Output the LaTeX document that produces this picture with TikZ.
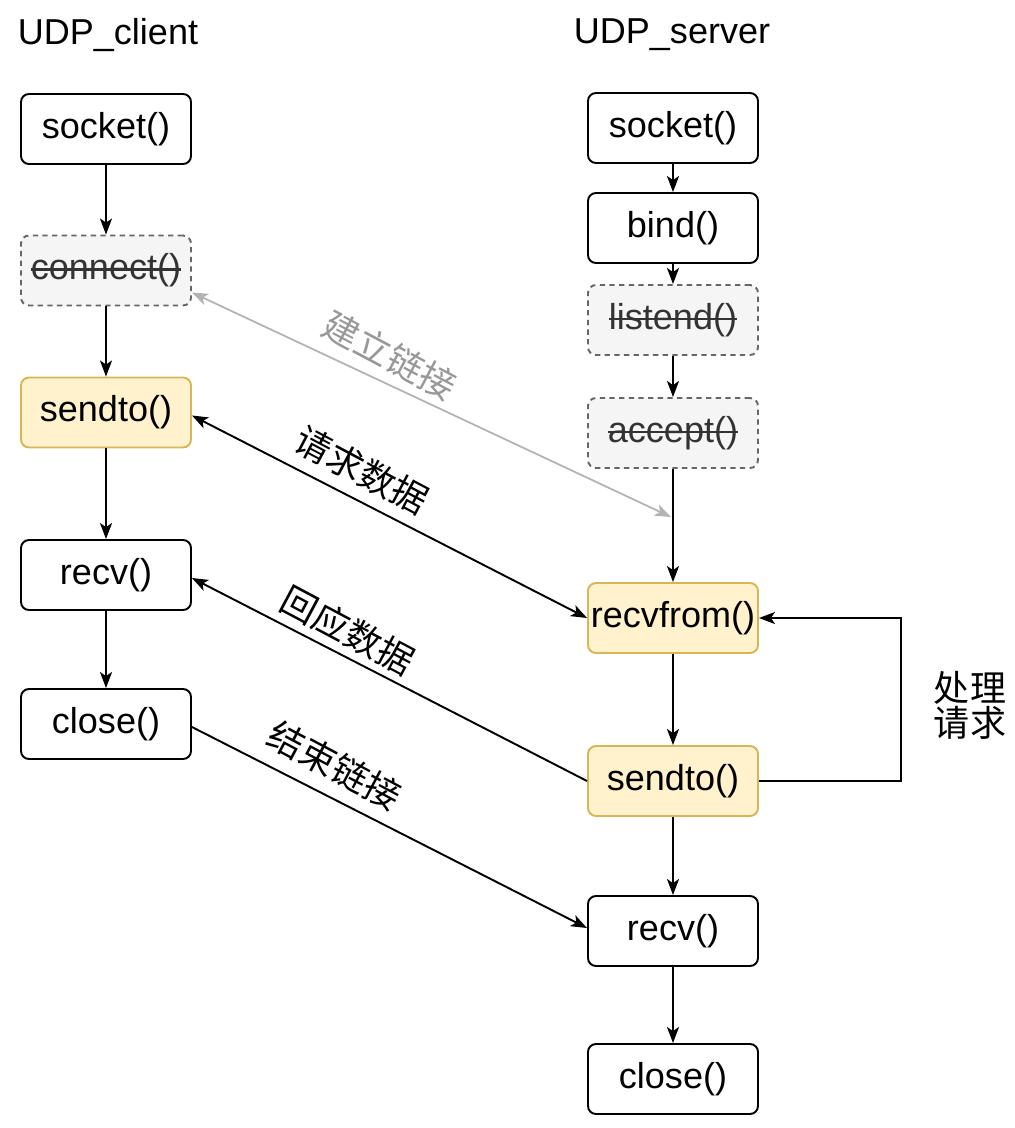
\documentclass[tikz,border=0pt]{standalone}
\usepackage{fontspec}
\setmainfont{Liberation Sans}
\newfontfamily\cjk{Noto Sans CJK SC}
\newsavebox\strkbox
\newcommand\strk[1]{\sbox\strkbox{#1}\rlap{\usebox\strkbox}\rule[0.25em]{\wd\strkbox}{1.6pt}}
\usetikzlibrary{arrows.meta}
\definecolor{yfill}{HTML}{FFF2CC}
\definecolor{ydraw}{HTML}{D6B656}
\definecolor{gfill}{HTML}{F5F5F5}
\definecolor{gdraw}{HTML}{666666}
\definecolor{gtext}{HTML}{333333}
\definecolor{garrow}{HTML}{B3B3B3}
\begin{document}
\begin{tikzpicture}[
  font=\fontsize{20.5}{24}\selectfont,
  box/.style={draw=black, line width=1.1pt, rounded corners=0.16cm, minimum width=3.4cm, minimum height=1.4cm, fill=white, inner sep=0pt},
  hl/.style={box, draw=ydraw, fill=yfill},
  off/.style={box, draw=gdraw, fill=gfill, dash pattern=on 3pt off 2.5pt, text=gtext},
  tip/.style={-{Stealth[length=0.32cm, width=0.24cm, inset=0.08cm]}},
  arr/.style={line width=1.1pt, tip},
  darr/.style={line width=1.1pt, {Stealth[length=0.32cm, width=0.24cm, inset=0.08cm]}-{Stealth[length=0.32cm, width=0.24cm, inset=0.08cm]}},
  lbl/.style={font=\cjk\fontsize{20.5}{24}\selectfont, rotate=-28}
]
\useasboundingbox (0,0) rectangle (20.3,-22.56);

% titles
\node (ctitle) at (2.16,-0.70) {UDP\_client};
\node (stitle) at (13.44,-0.70) {UDP\_server};

% client column
\node[box] (csocket)  at (2.12,-2.58)  {socket()};
\node[off] (cconnect) at (2.12,-5.41)  {\strk{connect()}};
\node[hl]  (csendto)  at (2.12,-8.25)  {sendto()};
\node[box] (crecv)    at (2.12,-11.50) {recv()};
\node[box] (cclose)   at (2.12,-14.48) {close()};

% server column
\node[box] (ssocket)   at (13.46,-2.56)  {socket()};
\node[box] (sbind)     at (13.46,-4.56)  {bind()};
\node[off] (slisten)   at (13.46,-6.40)  {\strk{listend()}};
\node[off] (saccept)   at (13.46,-8.66)  {\strk{accept()}};
\node[hl]  (srecvfrom) at (13.46,-12.36) {recvfrom()};
\node[hl]  (ssendto)   at (13.46,-15.62) {sendto()};
\node[box] (srecv)     at (13.46,-18.62) {recv()};
\node[box] (sclose)    at (13.46,-21.58) {close()};

% client vertical arrows
\draw[arr] (csocket) -- (cconnect);
\draw[arr] (cconnect) -- (csendto);
\draw[arr] (csendto) -- (crecv);
\draw[arr] (crecv) -- (cclose);

% server vertical arrows
\draw[arr] (ssocket) -- (sbind);
\draw[arr] (sbind) -- (slisten);
\draw[arr] (slisten) -- (saccept);
\draw[arr] (saccept) -- (srecvfrom);
\draw[arr] (srecvfrom) -- (ssendto);
\draw[arr] (ssendto) -- (srecv);
\draw[arr] (srecv) -- (sclose);

% gray connection arrow
\coordinate (gend) at (13.42,-10.34);
\draw[darr, draw=garrow, line width=1pt, color=garrow] ([yshift=-0.44cm]cconnect.east) -- (gend);
\node[lbl, text=garrow!85!black] (lconn) at (7.80,-7.10) {建立链接};

% request data
\draw[darr] ([yshift=-0.06cm]csendto.east) -- (srecvfrom.west);
\node[lbl] (lreq) at (7.24,-9.40) {请求数据};

% response data
\draw[arr] (ssendto.west) -- ([yshift=-0.06cm]crecv.east);
\node[lbl] (lresp) at (6.96,-12.60) {回应数据};

% close link
\draw[arr] ([yshift=-0.06cm]cclose.east) -- ([yshift=0.06cm]srecv.west);
\node[lbl] (lclose) at (6.70,-15.30) {结束链接};

% processing loop
\coordinate (loopc) at (18.02,-15.60);
\draw[arr] (ssendto.east) -- (ssendto.east -| loopc) |- (srecvfrom.east);
\node[font=\cjk\fontsize{20.5}{20}\selectfont, align=center] (lproc) at (19.40,-14.10) {处理\\请求};
\end{tikzpicture}
\end{document}
